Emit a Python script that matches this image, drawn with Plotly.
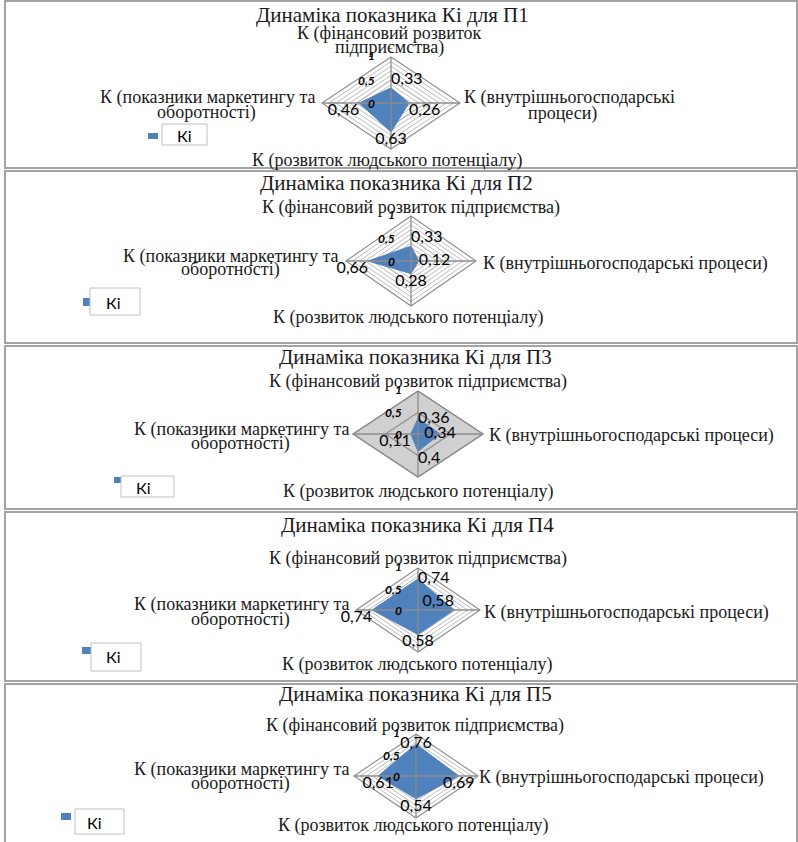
import plotly.graph_objects as go

W, H = 798, 842

# ---------------- data ----------------
categories = [
    "К (фінансовий розвиток підприємства)",
    "К (внутрішньогосподарські процеси)",
    "К (розвиток людського потенціалу)",
    "К (показники маркетингу та оборотності)",
]
enterprises = ["П1", "П2", "П3", "П4", "П5"]
series_name = "Кі"
ki_p1 = [0.33, 0.26, 0.63, 0.46]
ki_p2 = [0.33, 0.12, 0.28, 0.66]
ki_p3 = [0.36, 0.34, 0.40, 0.11]
ki_p4 = [0.74, 0.58, 0.58, 0.74]
ki_p5 = [0.76, 0.69, 0.54, 0.61]
axis_ticks = [0, 0.5, 1]
axis_tick_labels = ["0", "0,5", "1"]
minor_levels = [0.1, 0.2, 0.3, 0.4, 0.5, 0.6, 0.7, 0.8, 0.9, 1.0]
all_values = [ki_p1, ki_p2, ki_p3, ki_p4, ki_p5]

# ---------------- styling / geometry (pixels) ----------------
BLUE = "#4f81bd"
SERIF = "Liberation Serif, Times New Roman, serif"
SANS = "Lato, Carlito, sans-serif"
DIRS = [(0, 1), (1, 0), (0, -1), (-1, 0)]  # top, right, bottom, left
BREAKS = ["розвиток", "внутрішньогосподарські", None, "та"]

# label placement: list of lines per category -> (x, y, xanchor)
panels = [
    dict(cx=391, cy=103, rx=69, ry=46, frame=(1, 168), title=(392, 15),
         lab=[[(389, 33, "center"), (389, 48, "center")],
              [(462, 98, "left"), (562, 113, "center")],
              [(387, 161, "center")],
              [(317, 98, "right"), (206, 112, "center")]],
         pos=["top right", "bottom right", "bottom center", "bottom left"],
         sq=(148, 158, 133, 139), box=(162, 207, 124, 145), ltxt=(184, 136),
         filled=False),
    dict(cx=411, cy=261, rx=65, ry=45, frame=(171, 343), title=(396, 183),
         lab=[[(411, 208, "center")],
              [(481, 263, "left")],
              [(408, 317, "center")],
              [(340, 256, "right"), (230, 270, "center")]],
         pos=["top right", "middle right", "bottom center", "bottom left"],
         sq=(83, 91, 298, 306), box=(90, 140, 288, 315), ltxt=(113, 302),
         filled=False),
    dict(cx=418, cy=434, rx=65, ry=43, frame=(346, 509), title=(415, 357),
         lab=[[(418, 382, "center")],
              [(487, 436, "left")],
              [(418, 492, "center")],
              [(351, 429, "right"), (240, 443, "center")]],
         pos=["middle right", "middle center", "bottom right", "bottom left"],
         sq=(114, 121, 477, 483), box=(121, 174, 476, 497), ltxt=(143, 487),
         filled=True),
    dict(cx=418, cy=610, rx=62, ry=42, frame=(512, 681), title=(417, 525),
         lab=[[(418, 558, "center")],
              [(482, 612, "left")],
              [(417, 664, "center")],
              [(351, 604, "right"), (240, 619, "center")]],
         pos=["middle right", "top left", "bottom center", "bottom left"],
         sq=(82, 91, 647, 654), box=(91, 141, 643, 671), ltxt=(113, 656),
         filled=False),
    dict(cx=416, cy=776, rx=62, ry=42, frame=(684, 850), title=(415, 694),
         lab=[[(415, 725, "center")],
              [(477, 777, "left")],
              [(413, 825, "center")],
              [(351, 769, "right"), (240, 783, "center")]],
         pos=["middle center", "bottom center", "bottom center", "bottom center"],
         sq=(61, 71, 813, 820), box=(75, 124, 809, 834), ltxt=(94, 822),
         filled=False),
]


def px(x):
    return x / W


def py(y):
    return 1 - y / H


def split_label(text, brk, n_lines):
    if n_lines == 1 or brk is None:
        return [text]
    k = text.index(brk) + len(brk)
    return [text[:k].strip(), text[k:].strip()]


def fmt(v):
    return f"{v:g}".replace(".", ",")


fig = go.Figure()
shapes = []
annotations = []
K = 1.55

for i, (p, vals, ent) in enumerate(zip(panels, all_values, enterprises), start=1):
    xa = "x" if i == 1 else f"x{i}"
    ya = "y" if i == 1 else f"y{i}"
    common = dict(xaxis=xa, yaxis=ya, showlegend=False, hoverinfo="skip")

    # background / grid
    if p["filled"]:
        fig.add_trace(go.Scatter(
            x=[d[0] for d in DIRS] + [DIRS[0][0]], y=[d[1] for d in DIRS] + [DIRS[0][1]],
            mode="lines", fill="toself", fillcolor="#cfcfcf",
            fillpattern=dict(shape="x", fgcolor="#a9a9a9", bgcolor="#d3d3d3",
                             size=3, solidity=0.2),
            line=dict(color="#8c8c8c", width=1.2), **common))
        levels = [0.5, 1.0]
    else:
        levels = minor_levels
    for lv in levels:
        fig.add_trace(go.Scatter(
            x=[d[0] * lv for d in DIRS] + [DIRS[0][0] * lv],
            y=[d[1] * lv for d in DIRS] + [DIRS[0][1] * lv],
            mode="lines",
            line=dict(color="#8c8c8c" if (p["filled"] or lv == 1.0) else "#b4b4b4",
                      width=1.1 if lv in (0.5, 1.0) else 0.9),
            **common))

    # series polygon
    xs = [d[0] * v for d, v in zip(DIRS, vals)]
    ys = [d[1] * v for d, v in zip(DIRS, vals)]
    fig.add_trace(go.Scatter(
        x=xs + [xs[0]], y=ys + [ys[0]], mode="lines", fill="toself",
        fillcolor=BLUE, line=dict(color=BLUE, width=1), name=series_name,
        xaxis=xa, yaxis=ya, showlegend=False, hoverinfo="skip"))

    # spokes
    for d in DIRS:
        fig.add_trace(go.Scatter(x=[0, d[0]], y=[0, d[1]], mode="lines",
                                 line=dict(color="#8c8c8c", width=1.3), **common))

    # data labels
    fig.add_trace(go.Scatter(
        x=xs, y=ys, mode="text", text=[fmt(v) for v in vals],
        textposition=p["pos"], cliponaxis=False,
        textfont=dict(family=SANS, size=16, color="#000000"), **common))

    # axis scale labels
    for t, tl in zip(axis_ticks, axis_tick_labels):
        annotations.append(dict(
            x=0, y=t, xref=xa, yref=ya, text=f"<b><i>{tl}</i></b>",
            showarrow=False, xanchor="right", yanchor="middle", xshift=-14,
            yshift=2 if t == 1 else 0,
            font=dict(family=SANS, size=12, color="#000000")))

    # axes
    cx, cy, rx, ry = p["cx"], p["cy"], p["rx"], p["ry"]
    axx = dict(domain=[px(cx - K * rx), px(cx + K * rx)], range=[-K, K],
               visible=False, fixedrange=True)
    axy = dict(domain=[py(cy + K * ry), py(cy - K * ry)], range=[-K, K],
               visible=False, fixedrange=True)
    if i > 1:
        axx["anchor"] = ya
        axy["anchor"] = xa
    fig.update_layout(**{("xaxis" if i == 1 else f"xaxis{i}"): axx,
                         ("yaxis" if i == 1 else f"yaxis{i}"): axy})

    # frame
    f0, f1 = p["frame"]
    shapes.append(dict(type="rect", xref="paper", yref="paper",
                       x0=px(5), x1=px(797), y0=py(f1), y1=py(f0),
                       line=dict(color="#a3a3a3", width=2), layer="below"))

    # title
    annotations.append(dict(
        x=px(p["title"][0]), y=py(p["title"][1]), xref="paper", yref="paper",
        text=f"Динаміка показника {series_name} для {ent}", showarrow=False,
        xanchor="center", yanchor="middle",
        font=dict(family=SERIF, size=21, color="#1a1a1a")))

    # category labels (each line placed separately)
    for c, brk, spots in zip(categories, BREAKS, p["lab"]):
        for line, (lx, ly, xanc) in zip(split_label(c, brk, len(spots)), spots):
            annotations.append(dict(
                x=px(lx), y=py(ly), xref="paper", yref="paper",
                text=line, showarrow=False, xanchor=xanc, yanchor="middle",
                font=dict(family=SERIF, size=18, color="#1a1a1a")))

    # legend (marker square + bordered box)
    s = p["sq"]
    shapes.append(dict(type="rect", xref="paper", yref="paper",
                       x0=px(s[0]), x1=px(s[1]), y0=py(s[3]), y1=py(s[2]),
                       fillcolor=BLUE, line=dict(width=0)))
    b = p["box"]
    shapes.append(dict(type="rect", xref="paper", yref="paper",
                       x0=px(b[0]), x1=px(b[1]), y0=py(b[3]), y1=py(b[2]),
                       fillcolor="white", line=dict(color="#c0c0c0", width=1)))
    annotations.append(dict(
        x=px(p["ltxt"][0]), y=py(p["ltxt"][1]), xref="paper", yref="paper",
        text=series_name, showarrow=False, xanchor="center", yanchor="middle",
        font=dict(family=SANS, size=16, color="#000000")))

fig.update_layout(
    width=W, height=H, margin=dict(l=0, r=0, t=0, b=0),
    paper_bgcolor="white", plot_bgcolor="rgba(0,0,0,0)",
    shapes=shapes, annotations=annotations, showlegend=False,
)

fig.write_html(
    "out.html",
    config={"displayModeBar": False, "staticPlot": True},
    post_script="document.body.style.margin='0';document.body.style.overflow='hidden';",
)
